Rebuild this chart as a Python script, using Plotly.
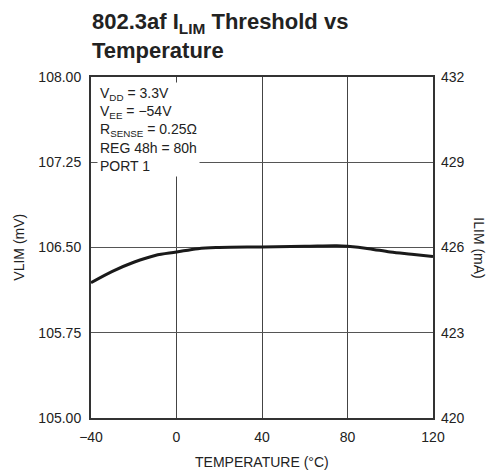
import plotly.graph_objects as go

temperature = [-40, -30, -20, -10, 0, 10, 20, 40, 60, 75, 80, 90, 100, 110, 120]
vlim_mv = [106.19, 106.29, 106.37, 106.43, 106.46, 106.49, 106.50, 106.505, 106.51, 106.515, 106.51, 106.49, 106.46, 106.44, 106.42]

x_ticks = [-40, 0, 40, 80, 120]
x_tick_labels = ["\u221240", "0", "40", "80", "120"]
y_left_ticks = [105.00, 105.75, 106.50, 107.25, 108.00]
y_left_labels = ["105.00", "105.75", "106.50", "107.25", "108.00"]
y_right_ticks = [420, 423, 426, 429, 432]
y_right_labels = ["420", "423", "426", "429", "432"]

FONT = "Liberation Sans, Arial, sans-serif"

fig = go.Figure()
fig.add_trace(go.Scatter(x=temperature, y=vlim_mv, mode="lines",
                         line=dict(color="#1a1a1a", width=3, shape="spline"),
                         showlegend=False, hoverinfo="skip"))
# invisible trace for right axis
fig.add_trace(go.Scatter(x=[x_ticks[0]], y=[y_right_ticks[0]], yaxis="y2",
                         mode="markers", marker=dict(opacity=0), showlegend=False,
                         hoverinfo="skip"))

fig.update_layout(
    width=488, height=467,
    margin=dict(l=83, r=63, t=69, b=57, autoexpand=False),
    paper_bgcolor="white", plot_bgcolor="white",
    font=dict(family=FONT, size=14, color="#222"),
    xaxis=dict(range=[-40, 120], tickvals=x_ticks, ticktext=x_tick_labels,
               showgrid=True, gridcolor="#444", gridwidth=1,
               showline=True, linecolor="#333", linewidth=2, mirror=True,
               ticks="", zeroline=False, ticklabelstandoff=5, automargin=False),
    yaxis=dict(range=[105, 108], tickvals=y_left_ticks, ticktext=y_left_labels,
               showgrid=True, gridcolor="#555", gridwidth=1,
               showline=True, linecolor="#333", linewidth=2, mirror=True,
               ticks="", zeroline=False, ticklabelstandoff=5, automargin=False),
    yaxis2=dict(range=[420, 432], tickvals=y_right_ticks, ticktext=y_right_labels,
                overlaying="y", side="right", showgrid=False, zeroline=False,
                ticks="", showline=False, ticklabelstandoff=7, automargin=False),
    annotations=[
        dict(text="<b>802.3af I<sub>LIM</sub> Threshold vs<br>Temperature</b>",
             xref="paper", yref="paper", x=-0.003, y=1.205, xanchor="left", yanchor="top",
             align="left", showarrow=False,
             font=dict(family=FONT, size=22, color="#222")),
        dict(text="V<sub>DD</sub> = 3.3V<br>V<sub>EE</sub> = \u221254V<br>R<sub>SENSE</sub> = 0.25\u03a9<br>REG 48h = 80h<br>PORT 1",
             xref="paper", yref="paper", x=0.018, y=0.985, xanchor="left", yanchor="top",
             align="left", showarrow=False, bgcolor="white", borderpad=2,
             font=dict(family=FONT, size=14, color="#222")),
        dict(text="TEMPERATURE (°C)", xref="paper", yref="paper", x=0.5, y=-0.129,
             xanchor="center", yanchor="middle", showarrow=False,
             font=dict(family=FONT, size=14, color="#222")),
        dict(text="VLIM (mV)", xref="paper", yref="paper", x=-0.213, y=0.5,
             xanchor="center", yanchor="middle", textangle=-90, showarrow=False,
             font=dict(family=FONT, size=14, color="#222")),
        dict(text="ILIM (mA)", xref="paper", yref="paper", x=1.135, y=0.5,
             xanchor="center", yanchor="middle", textangle=90, showarrow=False,
             font=dict(family=FONT, size=14, color="#222")),
    ],
)

fig.write_html("out.html")
